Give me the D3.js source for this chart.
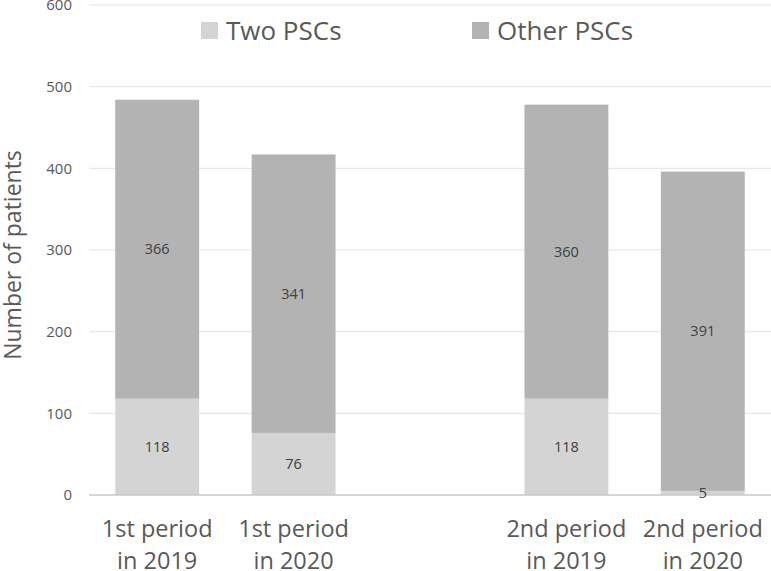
<!DOCTYPE html>
<html><head><meta charset="utf-8">
<script src="https://cdn.jsdelivr.net/npm/d3@7"></script>
<style>body{margin:0;background:#fff}svg{display:block}</style>
</head><body><div id="chart"></div>
<script>
const categories = ["1st period|in 2019", "1st period|in 2020", "", "2nd period|in 2019", "2nd period|in 2020"];
const twoPSCs = [118, 76, null, 118, 5];
const otherPSCs = [366, 341, null, 360, 391];
const seriesNames = ["Two PSCs", "Other PSCs"];
const yTicks = [0, 100, 200, 300, 400, 500, 600];

const W = 771, H = 571;
const m = {left: 89, right: 0, top: 5, bottom: 76};
const font = "'Open Sans', sans-serif";
const colors = ["#d4d4d4", "#b3b3b3"];

const svg = d3.select("#chart").append("svg").attr("width", W).attr("height", H);

const x = d3.scaleBand().domain(d3.range(categories.length)).range([m.left, W - m.right]).paddingInner(0.385).paddingOuter(0.1925);
const y = d3.scaleLinear().domain([0, 600]).range([H - m.bottom, m.top]);

// gridlines
svg.append("g").selectAll("line").data(yTicks.filter(d => d > 0)).join("line")
  .attr("x1", m.left).attr("x2", W).attr("y1", d => y(d)).attr("y2", d => y(d))
  .attr("stroke", "#e3e3e3").attr("stroke-width", 1);

// y tick labels
const yAxis = d3.axisLeft(y).tickValues(yTicks).tickSize(0).tickPadding(17);
const ga = svg.append("g").attr("transform", `translate(${m.left},0)`).call(yAxis);
ga.select(".domain").remove();
ga.selectAll("text").attr("font-family", font).attr("font-size", 15).attr("fill", "#595959");

// stacked bars
const rows = categories.map((c, i) => ({i, two: twoPSCs[i], other: otherPSCs[i]})).filter(r => r.two !== null);
const stack = d3.stack().keys(["two", "other"])(rows);
stack.forEach((layer, k) => {
  svg.append("g").selectAll("rect").data(layer).join("rect")
    .attr("x", d => x(d.data.i)).attr("width", x.bandwidth())
    .attr("y", d => y(d[1])).attr("height", d => y(d[0]) - y(d[1]))
    .attr("fill", colors[k]);
});

// baseline
svg.append("line").attr("x1", m.left).attr("x2", W).attr("y1", y(0)).attr("y2", y(0))
  .attr("stroke", "#c8c8c8").attr("stroke-width", 1.3);

// data labels
stack.forEach((layer, k) => {
  svg.append("g").selectAll("text").data(layer).join("text")
    .attr("x", d => x(d.data.i) + x.bandwidth() / 2)
    .attr("y", d => (y(d[0]) + y(d[1])) / 2)
    .attr("dy", "0.35em").attr("text-anchor", "middle")
    .attr("font-family", font).attr("font-size", 14.5).attr("fill", "#404040")
    .text(d => d[1] - d[0]);
});

// category labels
const cg = svg.append("g");
categories.forEach((c, i) => {
  if (!c) return;
  const lines = c.split("|");
  const t = cg.append("text").attr("text-anchor", "middle")
    .attr("font-family", font).attr("font-size", 23.5).attr("fill", "#595959");
  lines.forEach((ln, j) => {
    t.append("tspan").attr("x", x(i) + x.bandwidth() / 2).attr("y", 537 + j * 32).text(ln);
  });
});

// y title
svg.append("text").attr("transform", `translate(21,${(y(0) + y(600)) / 2 + 5}) rotate(-90)`)
  .attr("text-anchor", "middle").attr("font-family", font).attr("font-size", 23).attr("fill", "#595959")
  .text("Number of patients");

// legend
const legX = [201, 472];
seriesNames.forEach((n, k) => {
  svg.append("rect").attr("x", legX[k]).attr("y", 22).attr("width", 17).attr("height", 17).attr("fill", colors[k]);
  svg.append("text").attr("x", legX[k] + 25).attr("y", 40).attr("font-family", font)
    .attr("font-size", 26).attr("fill", "#595959").text(n);
});
</script></body></html>
